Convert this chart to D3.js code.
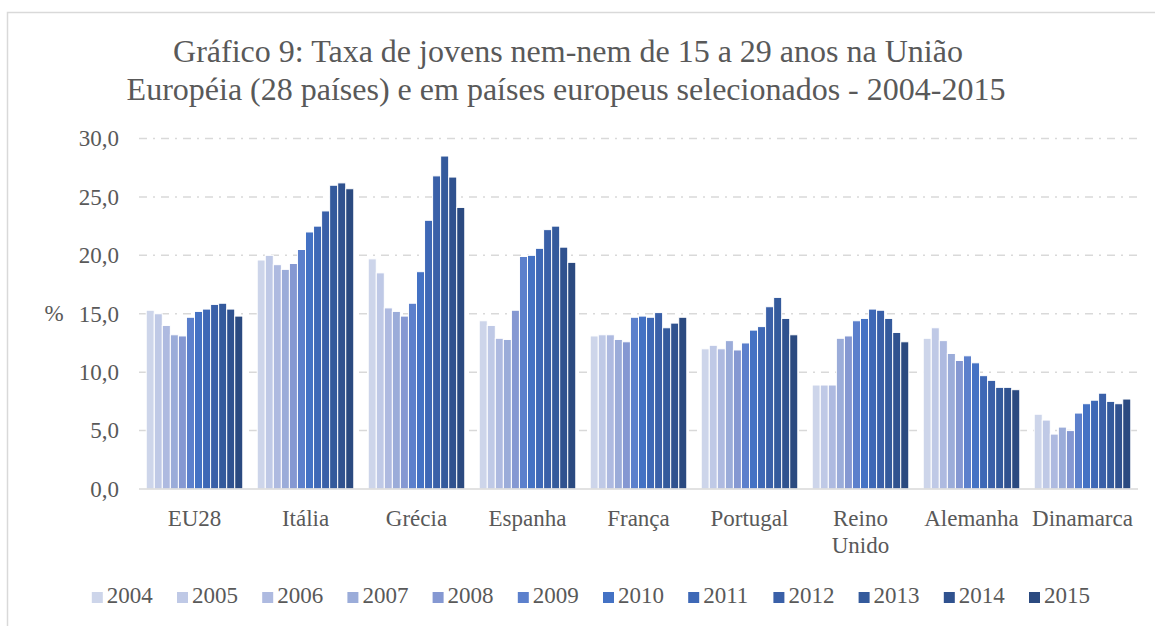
<!DOCTYPE html>
<html lang="pt">
<head>
  <meta charset="UTF-8" />
  <title>Gráfico 9 - Jovens nem-nem</title>
  <script src="https://d3js.org/d3.v7.min.js"></script>
  <style>
    body { margin: 0; background: #fff; }
    svg text { font-family: "Liberation Serif", "Times New Roman", serif; fill: #595959; }
  </style>
</head>
<body>
  <svg width="1155" height="626" id="chart"></svg>

  <script>
    const countries = ["EU28", "Itália", "Grécia", "Espanha", "França", "Portugal", "Reino Unido", "Alemanha", "Dinamarca"];
    const years = ["2004", "2005", "2006", "2007", "2008", "2009", "2010", "2011", "2012", "2013", "2014", "2015"];

    // one row per country, 2004..2015
    const eu28     = [15.3, 15.0, 14.0, 13.2, 13.1, 14.7, 15.2, 15.4, 15.8, 15.9, 15.4, 14.8];
    const italia   = [19.6, 20.0, 19.2, 18.8, 19.3, 20.5, 22.0, 22.5, 23.8, 26.0, 26.2, 25.7];
    const grecia   = [19.7, 18.5, 15.5, 15.2, 14.8, 15.9, 18.6, 23.0, 26.8, 28.5, 26.7, 24.1];
    const espanha  = [14.4, 14.0, 12.9, 12.8, 15.3, 19.9, 20.0, 20.6, 22.2, 22.5, 20.7, 19.4];
    const franca   = [13.1, 13.2, 13.2, 12.8, 12.6, 14.7, 14.8, 14.7, 15.1, 13.8, 14.2, 14.7];
    const portugal = [12.0, 12.3, 12.0, 12.7, 11.9, 12.5, 13.6, 13.9, 15.6, 16.4, 14.6, 13.2];
    const reinoUnido = [8.9, 8.9, 8.9, 12.9, 13.1, 14.4, 14.6, 15.4, 15.3, 14.6, 13.4, 12.6];
    const alemanha = [12.9, 13.8, 12.7, 11.6, 11.0, 11.4, 10.8, 9.7, 9.3, 8.7, 8.7, 8.5];
    const dinamarca = [6.4, 5.9, 4.7, 5.3, 5.0, 6.5, 7.3, 7.6, 8.2, 7.5, 7.3, 7.7];

    const yTicks = [0, 5, 10, 15, 20, 25, 30];

    const seriesByCountry = [eu28, italia, grecia, espanha, franca, portugal, reinoUnido, alemanha, dinamarca];

    const colors = ["#cdd5ea", "#bfc9e6", "#aebae0", "#9bacd9", "#8598d2", "#5c80cc",
                    "#4472c4", "#3e68b6", "#3a60a8", "#345a9c", "#30528f", "#2b4a80"];

    const svg = d3.select("#chart");

    // chart area border (runs off the right and bottom of the picture)
    svg.append("rect")
      .attr("x", 7.5).attr("y", 12.5)
      .attr("width", 1300).attr("height", 800)
      .attr("fill", "none")
      .attr("stroke", "#d9d9d9")
      .attr("stroke-width", 1.5);

    const plot = { left: 139, right: 1138, top: 138.5, bottom: 489 };

    const x0 = d3.scaleBand()
      .domain(countries)
      .range([plot.left, plot.right])
      .paddingInner(0.13)
      .paddingOuter(0.065);

    const x1 = d3.scaleBand()
      .domain(years)
      .range([0, x0.bandwidth()]);

    const y = d3.scaleLinear()
      .domain([0, 30])
      .range([plot.bottom, plot.top]);

    const color = d3.scaleOrdinal().domain(years).range(colors);

    // title
    svg.append("text")
      .attr("x", 568).attr("y", 62)
      .attr("text-anchor", "middle")
      .style("font-size", "32px")
      .text("Gráfico 9: Taxa de jovens nem-nem de 15 a 29 anos na União");
    svg.append("text")
      .attr("x", 566).attr("y", 100)
      .attr("text-anchor", "middle")
      .style("font-size", "32px")
      .text("Européia (28 países) e em países europeus selecionados - 2004-2015");

    // gridlines
    svg.append("g")
      .selectAll("line")
      .data(yTicks.filter(d => d > 0))
      .join("line")
      .attr("x1", plot.left).attr("x2", plot.right)
      .attr("y1", d => y(d)).attr("y2", d => y(d))
      .attr("stroke", "#d9d9d9")
      .attr("stroke-width", 1.5)
      .attr("stroke-dasharray", "8,6,2,6");

    // y axis labels
    const yAxis = d3.axisLeft(y)
      .tickValues(yTicks)
      .tickSize(0)
      .tickPadding(0)
      .tickFormat(d => d3.format(".1f")(d).replace(".", ","));

    svg.append("g")
      .attr("transform", "translate(119,0)")
      .call(yAxis)
      .call(g => g.select(".domain").remove())
      .call(g => g.selectAll("text")
        .style("font-size", "23px")
        .attr("fill", "#595959")
        .style("font-family", "'Liberation Serif', serif"));

    svg.append("text")
      .attr("x", 54).attr("y", y(15))
      .attr("dy", "0.32em")
      .attr("text-anchor", "middle")
      .style("font-size", "23px")
      .text("%");

    // bars
    const groups = svg.append("g")
      .selectAll("g")
      .data(countries)
      .join("g")
      .attr("transform", d => `translate(${x0(d)},0)`);

    groups.selectAll("rect")
      .data((c, i) => years.map((yr, j) => ({ year: yr, value: seriesByCountry[i][j] })))
      .join("rect")
      .attr("x", d => x1(d.year))
      .attr("y", d => y(d.value))
      .attr("width", x1.bandwidth())
      .attr("height", d => y(0) - y(d.value))
      .attr("fill", d => color(d.year))
      .attr("stroke", "#fff")
      .attr("stroke-width", 1);

    // baseline
    svg.append("line")
      .attr("x1", plot.left).attr("x2", plot.right)
      .attr("y1", y(0)).attr("y2", y(0))
      .attr("stroke", "#d9d9d9")
      .attr("stroke-width", 1.5);

    // category labels
    const xLabels = svg.append("g")
      .selectAll("text")
      .data(countries)
      .join("text")
      .attr("x", d => x0(d) + x0.bandwidth() / 2)
      .attr("y", 526)
      .attr("text-anchor", "middle")
      .style("font-size", "23px");

    xLabels.each(function (d) {
      const t = d3.select(this);
      const words = d === "Reino Unido" ? ["Reino", "Unido"] : [d];
      words.forEach((w, k) => {
        t.append("tspan")
          .attr("x", x0(d) + x0.bandwidth() / 2)
          .attr("dy", k === 0 ? 0 : 27)
          .text(w);
      });
    });

    // legend
    const legend = svg.append("g")
      .selectAll("g")
      .data(years)
      .join("g")
      .attr("transform", (d, i) => `translate(${91.8 + i * 85.2},592)`);

    legend.append("rect")
      .attr("width", 11).attr("height", 11)
      .attr("fill", d => color(d));

    legend.append("text")
      .attr("x", 15).attr("y", 11)
      .style("font-size", "23px")
      .text(d => d);
  </script>
</body>
</html>
